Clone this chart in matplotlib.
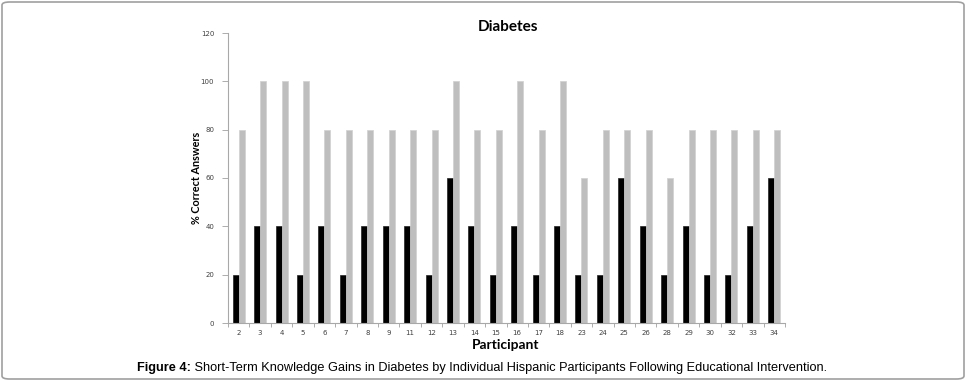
import matplotlib.pyplot as plt
import numpy as np
from matplotlib.patches import FancyBboxPatch

participants = ['2', '3', '4', '5', '6', '7', '8', '9', '11', '12', '13', '14', '15',
                '16', '17', '18', '23', '24', '25', '26', '28', '29', '30', '32', '33', '34']
pre_scores = [20, 40, 40, 20, 40, 20, 40, 40, 40, 20, 60, 40, 20,
              40, 20, 40, 20, 20, 60, 40, 20, 40, 20, 20, 40, 60]
post_scores = [80, 100, 100, 100, 80, 80, 80, 80, 80, 80, 100, 80, 80,
               100, 80, 100, 60, 80, 80, 80, 60, 80, 80, 80, 80, 80]
y_ticks = [0, 20, 40, 60, 80, 100, 120]

fig = plt.figure(figsize=(9.66, 3.81), dpi=100)
ax = fig.add_axes([228 / 966, 1 - 323 / 381, (785 - 228) / 966, (323 - 33) / 381])

x = np.arange(len(participants))
w = 0.28
ax.bar(x - w / 2, pre_scores, w, color='black', edgecolor='#222222', linewidth=0.5)
ax.bar(x + w / 2, post_scores, w, color='#BEBEBE', edgecolor='#D0D0D0', linewidth=0.5)

ax.set_xlim(-0.5, len(participants) - 0.5)
ax.set_ylim(0, 120)
ax.set_yticks(y_ticks)
ax.set_yticklabels([str(t) for t in y_ticks], fontsize=5, color='#404040', family='DejaVu Sans')
ax.set_xticks(x)
ax.set_xticklabels(participants, fontsize=5, color='#404040', family='DejaVu Sans')
ax.set_xticks(np.arange(-0.5, len(participants), 1), minor=True)
ax.tick_params(axis='x', which='major', length=0, pad=5)
ax.tick_params(axis='x', which='minor', length=3, width=0.6, color='#A0A0A0')
ax.tick_params(axis='y', length=4, width=0.6, color='#A0A0A0', pad=6)

for s in ['top', 'right']:
    ax.spines[s].set_visible(False)
for s in ['left', 'bottom']:
    ax.spines[s].set_color('#A8A8A8')
    ax.spines[s].set_linewidth(0.8)

fig.text(508 / 966, 1 - 27 / 381, 'Diabetes', ha='center', va='center',
         fontsize=11, fontweight='bold', family='Lato')
fig.text(197 / 966, 1 - 178 / 381, '% Correct Answers', ha='center', va='center',
         rotation=90, fontsize=7.8, fontweight='bold', family='Lato')
fig.text(506 / 966, 1 - 345 / 381, 'Participant', ha='center', va='center',
         fontsize=10, fontweight='bold', family='Lato')

cap_font = ['Liberation Sans']
t1 = fig.text(137 / 966, 1 - 371 / 381, 'Figure 4:', ha='left', va='baseline',
              fontsize=9.2, fontweight='bold', family=cap_font)
fig.add_artist(plt.Annotation(
    ' Short-Term Knowledge Gains in Diabetes by Individual Hispanic Participants Following Educational Intervention.',
    xy=(1, 0), xycoords=t1, ha='left', va='bottom', fontsize=9.2, family=cap_font))

frame = FancyBboxPatch((2 / 966, 2 / 381), 962 / 966, 377 / 381,
                       boxstyle='round,pad=0,rounding_size=0.008',
                       transform=fig.transFigure, facecolor='none',
                       edgecolor='#A0A0A0', linewidth=1.2)
fig.add_artist(frame)

fig.savefig('out.png', dpi=100)
